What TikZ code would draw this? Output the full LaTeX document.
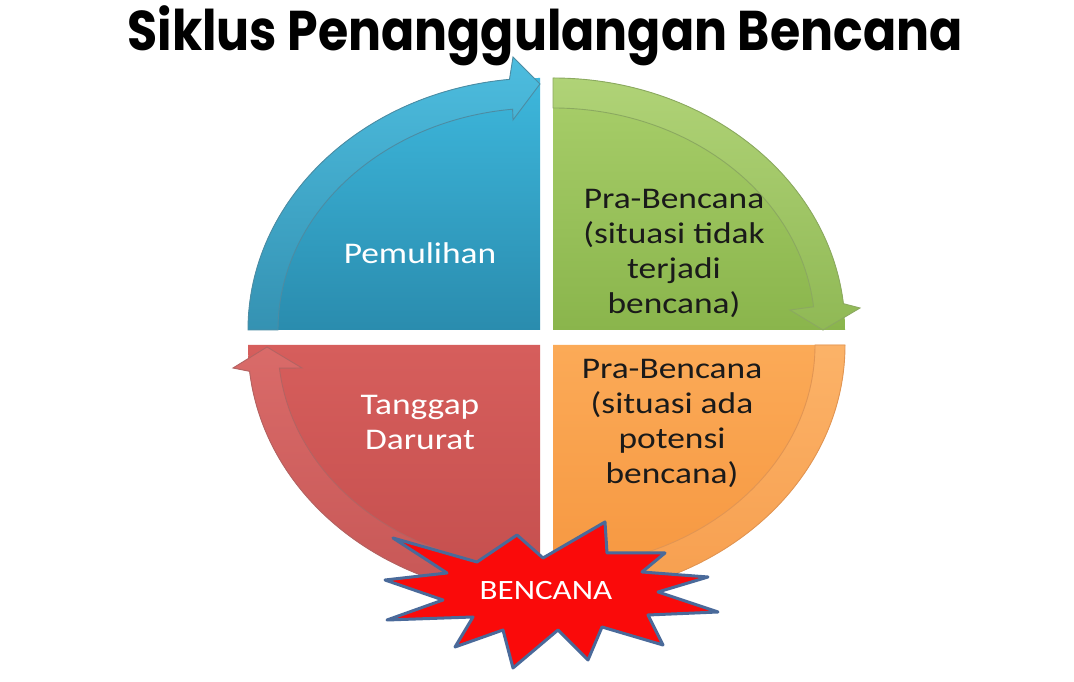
\documentclass[tikz,border=0pt]{standalone}
\usepackage{fontspec}
\usepackage{xcolor}
\usepackage{tikz}
\usetikzlibrary{calc}
\setmainfont{Carlito}
\newfontfamily\labelfont[FakeStretch=1.18]{Carlito}
\newfontfamily\titlefont[FakeStretch=0.875]{Poppins}

\definecolor{bluetop}{HTML}{3DB7DC}
\definecolor{bluebot}{HTML}{2A8CAE}
\definecolor{blueedge}{HTML}{1F6F8C}
\definecolor{greentop}{HTML}{A9CF6B}
\definecolor{greenbot}{HTML}{8AB54C}
\definecolor{greenedge}{HTML}{6E9438}
\definecolor{orangetop}{HTML}{FBAA57}
\definecolor{orangebot}{HTML}{F6963F}
\definecolor{orangeedge}{HTML}{D97A28}
\definecolor{redtop}{HTML}{D65E5C}
\definecolor{redbot}{HTML}{C44E4D}
\definecolor{rededge}{HTML}{A03C3B}
\definecolor{starred}{HTML}{FA0A0A}
\definecolor{staredge}{HTML}{4A6A9A}
\definecolor{textdark}{HTML}{1A1A1A}

\def\rx{292}
\def\ry{252}
\def\rxi{262}
\def\ryi{222}

\begin{document}
\begin{tikzpicture}[x=1pt,y=1pt,
  quad text/.style={font=\labelfont\fontsize{30}{35}\selectfont,align=center},
  quad edge/.style={line width=0.9pt}]
\useasboundingbox (0,0) rectangle (1074,682);
\fill[white] (0,0) rectangle (1074,682);

\coordinate (bluec) at (540,352);
\coordinate (greenc) at (553,352);
\coordinate (orangec) at (553,337);
\coordinate (redc) at (540,337);

% quadrants
\shade[top color=bluetop,bottom color=bluebot] (bluec) -- ++(-\rx,0)
  arc[start angle=180,end angle=90,x radius=\rx pt,y radius=\ry pt] -- cycle;
\shade[top color=greentop,bottom color=greenbot] (greenc) -- ++(0,\ry)
  arc[start angle=90,end angle=0,x radius=\rx pt,y radius=\ry pt] -- cycle;
\shade[top color=orangetop,bottom color=orangebot] (orangec) -- ++(\rx,0)
  arc[start angle=0,end angle=-90,x radius=\rx pt,y radius=\ry pt] -- cycle;
\shade[top color=redtop,bottom color=redbot] (redc) -- ++(0,-\ry)
  arc[start angle=270,end angle=180,x radius=\rx pt,y radius=\ry pt] -- cycle;

% curved arrows
\shade[top color=bluetop!92!white,bottom color=bluebot!95!white,draw=blueedge!80,quad edge]
  ($(bluec)+(180:\rx pt and \ry pt)$) arc[start angle=180,end angle=96,x radius=\rx pt,y radius=\ry pt]
  -- (513,625) -- (540,598) -- (513,562) -- ($(bluec)+(96:\rxi pt and \ryi pt)$)
  arc[start angle=96,end angle=180,x radius=\rxi pt,y radius=\ryi pt] -- cycle;
\shade[top color=greentop!92!white,bottom color=greenbot!95!white,draw=greenedge!80,quad edge]
  ($(greenc)+(90:\rx pt and \ry pt)$) arc[start angle=90,end angle=6,x radius=\rx pt,y radius=\ry pt]
  -- (860,374) -- (823,352) -- (790,372) -- ($(greenc)+(6:\rxi pt and \ryi pt)$)
  arc[start angle=6,end angle=90,x radius=\rxi pt,y radius=\ryi pt] -- cycle;
\shade[top color=orangetop!90!white,bottom color=orangebot!92!white,draw=orangeedge!80,quad edge]
  ($(orangec)+(0:\rx pt and \ry pt)$) arc[start angle=0,end angle=-88,x radius=\rx pt,y radius=\ry pt]
  -- ($(orangec)+(-88:\rxi pt and \ryi pt)$)
  arc[start angle=-88,end angle=0,x radius=\rxi pt,y radius=\ryi pt] -- cycle;
\shade[top color=redtop!92!white,bottom color=redbot!95!white,draw=rededge!80,quad edge]
  ($(redc)+(270:\rx pt and \ry pt)$) arc[start angle=270,end angle=186,x radius=\rx pt,y radius=\ry pt]
  -- (233,314) -- (267,335) -- (302,314) -- ($(redc)+(186:\rxi pt and \ryi pt)$)
  arc[start angle=186,end angle=270,x radius=\rxi pt,y radius=\ryi pt] -- cycle;

% labels
\node[quad text,white] (pemulihan) at (420,429) {Pemulihan};
\node[quad text,textdark] (prabencana) at (674,429) {Pra-Bencana\\(situasi tidak\\terjadi\\bencana)};
\node[quad text,textdark] (siagabencana) at (672,259) {Pra-Bencana\\(situasi ada\\potensi\\bencana)};
\node[quad text,white] (tanggap) at (420,260) {Tanggap\\Darurat};

% star
\filldraw[fill=starred,draw=staredge,line width=3pt,line join=round]
  (393,144) -- (477,120) -- (517,147) -- (543,124) -- (605,160) -- (607,129)
  -- (665,129) -- (642,110) -- (708,105) -- (658,90) -- (718,70) -- (648,67)
  -- (663,37) -- (602,55) -- (588,22) -- (558,52) -- (513,14) -- (503,52)
  -- (455,35) -- (473,65) -- (387,62) -- (443,82) -- (385,102) -- (447,109) -- cycle;
\node[font=\labelfont\fontsize{28}{30}\selectfont,white] (bencana) at (546,91) {BENCANA};

% title
\node[font=\titlefont\bfseries\fontsize{56}{60}\selectfont,anchor=base] (judul) at (545,631) {Siklus Penanggulangan Bencana};
\end{tikzpicture}
\end{document}
